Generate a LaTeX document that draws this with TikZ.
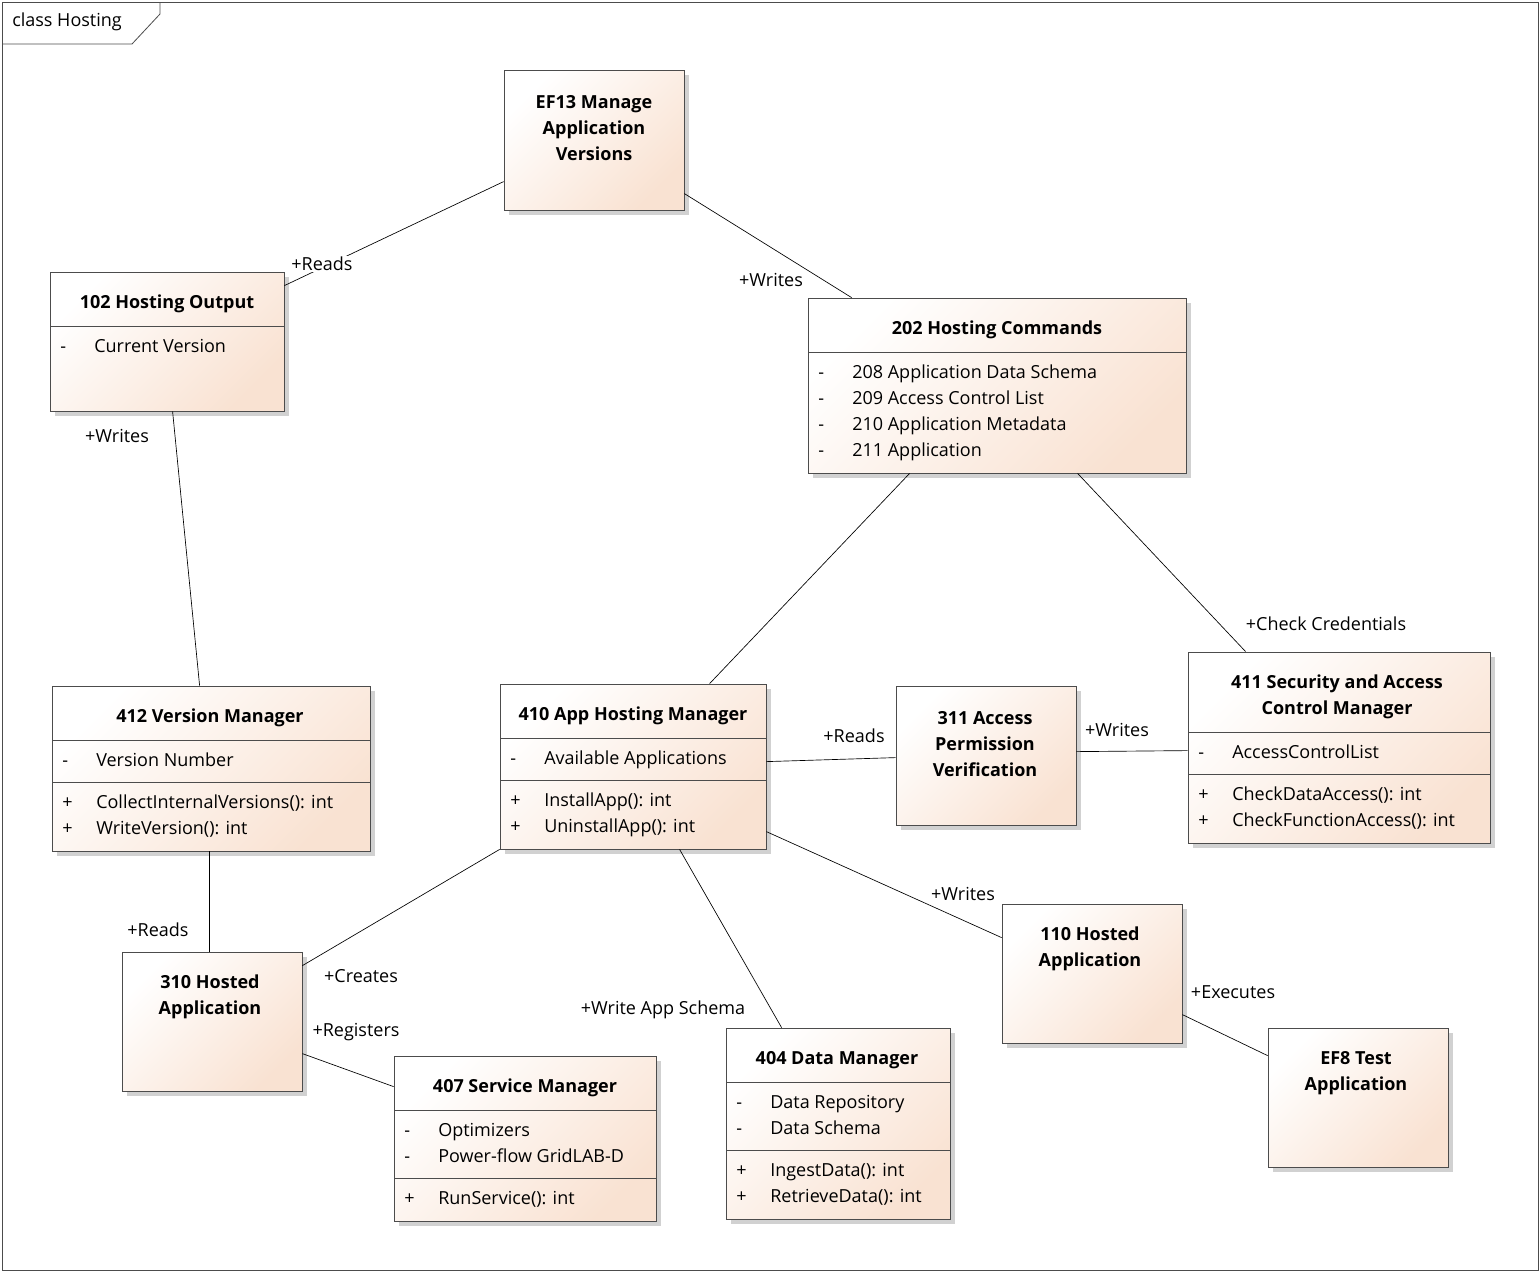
\documentclass[tikz,border=0pt]{standalone}
\usepackage{fontspec}
\setmainfont{Open Sans}
\usetikzlibrary{calc}
\definecolor{peach}{RGB}{249,226,210}
\tikzset{
 bx/.style={draw=black!70,line width=0.6pt,left color=white,right color=peach,shading angle=45,inner sep=0},
 sh/.style={fill=black!18,draw=none},
 tx/.style={font=\fontsize{13.5}{19.5}\selectfont,inner sep=0,anchor=west,text height=10pt,text depth=3pt},
 tt/.style={font=\fontsize{13.5}{19.5}\selectfont\bfseries,inner sep=0,align=center},
 ln/.style={draw=black,line width=0.5pt},
 lb/.style={font=\fontsize{13.5}{19.5}\selectfont,inner sep=1pt,fill=white},
 lbn/.style={font=\fontsize{13.5}{19.5}\selectfont,inner sep=1pt},
}
\newcommand{\bx}[5]{%
 \fill[sh] (#2+5,#3+5) rectangle (#4+5,#5+5);
 \node[bx,minimum width={(#4-#2)*0.75pt},minimum height={(#5-#3)*0.75pt}] (#1) at ({(#2+#4)/2},{(#3+#5)/2}) {};}
\newcommand{\hl}[3]{\draw[draw=black!70,line width=0.6pt] (#1,#3) -- (#2,#3);}
\begin{document}
\begin{tikzpicture}[x=0.75pt,y=-0.75pt]
\useasboundingbox (0,0) rectangle (1540,1272);
\draw[black!70,line width=0.6pt] (2,2) rectangle (1538,1270);
\draw[black!70,line width=0.6pt] (2,44) -- (132,44) -- (160,14) -- (160,2);
\node[tx] (title) at (12,22) {class Hosting};
% boxes
\bx{ef13}{504}{70}{684}{210}
\node[tt] (ef13t) at (594,128) {EF13 Manage\\Application\\Versions};
\bx{b102}{50}{272}{284}{411}
\hl{50}{284}{326}
\node[tt] at (167,304) {102 Hosting Output};
\node[tx] at (60,348) {-}; \node[tx] at (94,348) {Current Version};
\bx{b202}{808}{298}{1186}{473}
\hl{808}{1186}{352}
\node[tt] at (997,330) {202 Hosting Commands};
\foreach \t/\y in {208 Application Data Schema/374,209 Access Control List/400,210 Application Metadata/426,211 Application/452}{
 \node[tx] at (818,\y) {-}; \node[tx] at (852,\y) {\t};}
\bx{b412}{52}{686}{370}{851}
\hl{52}{370}{740}\hl{52}{370}{782}
\node[tt] at (210,718) {412 Version Manager};
\node[tx] at (62,762) {-}; \node[tx] at (96,762) {Version Number};
\node[tx] at (62,804) {+}; \node[tx] at (96,804) {CollectInternalVersions(): int};
\node[tx] at (62,830) {+}; \node[tx] at (96,830) {WriteVersion(): int};
\bx{b410}{500}{684}{766}{849}
\hl{500}{766}{738}\hl{500}{766}{780}
\node[tt] at (633,716) {410 App Hosting Manager};
\node[tx] at (510,760) {-}; \node[tx] at (544,760) {Available Applications};
\node[tx] at (510,802) {+}; \node[tx] at (544,802) {InstallApp(): int};
\node[tx] at (510,828) {+}; \node[tx] at (544,828) {UninstallApp(): int};
\bx{b311}{896}{686}{1076}{825}
\node[tt] at (985,744) {311 Access\\Permission\\Verification};
\bx{b411}{1188}{652}{1490}{843}
\hl{1188}{1490}{732}\hl{1188}{1490}{774}
\node[tt] at (1337,697) {411 Security and Access\\Control Manager};
\node[tx] at (1198,754) {-}; \node[tx] at (1232,754) {AccessControlList};
\node[tx] at (1198,796) {+}; \node[tx] at (1232,796) {CheckDataAccess(): int};
\node[tx] at (1198,822) {+}; \node[tx] at (1232,822) {CheckFunctionAccess(): int};
\bx{b310}{122}{952}{302}{1091}
\node[tt] at (210,997) {310 Hosted\\Application};
\bx{b110}{1002}{904}{1182}{1043}
\node[tt] at (1090,949) {110 Hosted\\Application};
\bx{ef8}{1268}{1028}{1448}{1167}
\node[tt] at (1356,1073) {EF8 Test\\Application};
\bx{b407}{394}{1056}{656}{1221}
\hl{394}{656}{1110}\hl{394}{656}{1178}
\node[tt] at (525,1088) {407 Service Manager};
\node[tx] at (404,1132) {-}; \node[tx] at (438,1132) {Optimizers};
\node[tx] at (404,1158) {-}; \node[tx] at (438,1158) {Power-flow GridLAB-D};
\node[tx] at (404,1200) {+}; \node[tx] at (438,1200) {RunService(): int};
\bx{b404}{726}{1028}{950}{1219}
\hl{726}{950}{1082}\hl{726}{950}{1150}
\node[tt] at (837,1060) {404 Data Manager};
\node[tx] at (736,1104) {-}; \node[tx] at (770,1104) {Data Repository};
\node[tx] at (736,1130) {-}; \node[tx] at (770,1130) {Data Schema};
\node[tx] at (736,1172) {+}; \node[tx] at (770,1172) {IngestData(): int};
\node[tx] at (736,1198) {+}; \node[tx] at (770,1198) {RetrieveData(): int};
% connectors
\draw[ln] ($(ef13.north west)+(0,112)$) -- ($(b102.north east)+(0,14)$);
\draw[ln] ($(ef13.north east)+(0,124)$) -- ($(b202.north west)+(44,0)$);
\draw[ln] ($(b102.south west)+(123,0)$) -- ($(b412.north west)+(148,0)$);
\draw[ln] ($(b202.south west)+(102,0)$) -- ($(b410.north west)+(210,0)$);
\draw[ln] ($(b202.south west)+(270,0)$) -- ($(b411.north west)+(58,0)$);
\draw[ln] ($(b410.north east)+(0,78)$) -- ($(b311.north west)+(0,72)$);
\draw[ln] ($(b311.north east)+(0,66)$) -- ($(b411.north west)+(0,99)$);
\draw[ln] ($(b412.south west)+(158,0)$) -- ($(b310.north west)+(88,0)$);
\draw[ln] (b410.south west) -- ($(b310.north east)+(0,14)$);
\draw[ln] ($(b310.north east)+(0,102)$) -- ($(b407.north west)+(0,31)$);
\draw[ln] ($(b410.south west)+(180,0)$) -- ($(b404.north west)+(56,0)$);
\draw[ln] ($(b410.north east)+(0,148)$) -- ($(b110.north west)+(0,34)$);
\draw[ln] ($(b110.north east)+(0,111)$) -- ($(ef8.north west)+(0,28)$);
% labels
\node[lb] (l1) at (322,264) {+Reads};
\node[lb] (l2) at (771,280) {+Writes};
\node[lbn] (l3) at (117,436) {+Writes};
\node[lbn] (l4) at (1326,624) {+Check Credentials};
\node[lbn] (l5) at (854,736) {+Reads};
\node[lbn] (l6) at (1117,730) {+Writes};
\node[lbn] (l7) at (158,930) {+Reads};
\node[lbn] (l8) at (361,976) {+Creates};
\node[lbn] (l9) at (356,1032) {+Registers};
\node[lbn] (l10) at (663,1010) {+Write App Schema};
\node[lb] (l11) at (963,894) {+Writes};
\node[lbn] (l12) at (1233,992) {+Executes};
\end{tikzpicture}
\end{document}
